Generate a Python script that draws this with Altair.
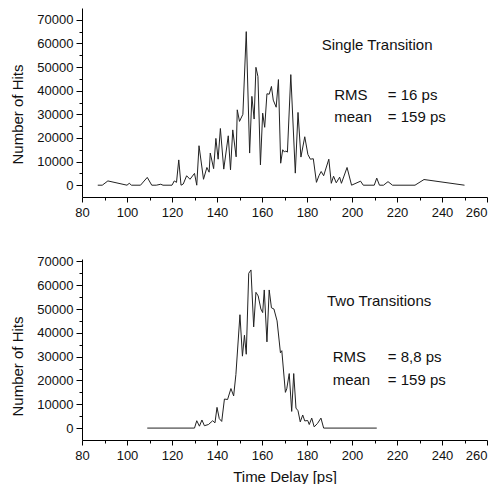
import altair as alt
import pandas as pd

# ---- data ----
top_t = [87, 89, 91.5, 100, 101, 102, 106, 109, 111, 113, 115, 116, 120, 121, 122, 123, 124, 125,
         126.5, 128, 130, 131, 132, 134, 135.5, 136.5, 137, 138.5, 139.5, 140.5, 141.5, 143, 145,
         146, 147, 148.5, 149, 150, 151.5, 153, 154.5, 155.5, 156.5, 157.3, 158.2, 159.3, 160.3,
         161.2, 162.2, 163.2, 164.2, 165, 166.3, 167.3, 168.3, 169.2, 170, 170.5, 171.3, 172.8,
         174.8, 176, 177.3, 179, 180.4, 181.5, 182.8, 184.2, 185.3, 186.3, 187.4, 189.7, 190.8,
         191.8, 193, 194.5, 195.3, 197.8, 199.8, 203.8, 205, 209.9, 211, 212.2, 214, 216, 218,
         228, 232, 250]
top_n = [0, 0, 1800, 0, 800, 0, 0, 3300, 0, 0, 400, 0, 0, 1800, 1200, 10700, 0, 500,
         4000, 2500, 5000, 0, 16700, 2500, 7500, 5500, 13600, 7000, 19800, 11000, 24000, 6800, 20900,
         6500, 23400, 12000, 31900, 27000, 30000, 65000, 13600, 37600, 28000, 49900, 46000, 8600, 30500,
         24500, 38700, 38500, 41800, 36000, 33000, 44700, 9300, 15000, 14000, 14500, 14000, 46800,
         5100, 30800, 11900, 20500, 13000, 11000, 11200, 1200, 4000, 5800, 4000, 11000, 800,
         3800, 1000, 3400, 800, 7500, 0, 1700, 0, 0, 3000, 0, 0, 1500, 0,
         0, 2400, 0]

bot_t = [109, 130, 131, 132.2, 133.3, 134.4, 136.2, 138.1, 139.1, 140, 141, 142.1, 143.3, 144.7,
         146.2, 147.4, 148.4, 150.2, 151.3, 152.2, 153, 154.1, 155.1, 156.3, 157.3, 158.3, 159.5,
         160.3, 161, 162.2, 163.2, 164.2, 165.3, 166.7, 168.2, 168.8, 170.4, 171, 172.1, 173.2,
         174.1, 175.1, 176, 177, 178.1, 179, 180.3, 181, 182.1, 183.2, 184.7, 186.2, 187.4, 211]
bot_n = [0, 0, 3100, 800, 3400, 1000, 1500, 3100, 2200, 8700, 4000, 2800, 12200, 12000,
         16600, 13500, 22500, 47600, 30200, 39000, 31000, 65000, 66400, 42500, 57000, 55500, 50000,
         48500, 58000, 36200, 58000, 50500, 50000, 45000, 31600, 32500, 15000, 16500, 22900, 7000,
         22900, 8400, 7300, 2600, 5500, 3000, 3200, 1500, 4200, 500, 2000, 4200, 0, 0]

x_ticks = list(range(80, 261, 10))
top_y_ticks = list(range(0, 70001, 5000))
bot_y_ticks = list(range(0, 70001, 5000))

FONT = "Liberation Sans"
INK = "#111111"


def panel(ts, ns, ymax, y_ticks, h, title_y, show_xtitle, notes):
    df = pd.DataFrame({"t": ts, "n": ns})
    xaxis = alt.Axis(
        values=x_ticks,
        format="d",
        labelExpr="datum.value % 20 ? '' : datum.label",
        labelAlign={"condition": {"test": "datum.value >= 260", "value": "right"}, "value": "center"},
        tickSize={"condition": {"test": "datum.value % 20", "value": 3}, "value": 5},
        labelPadding=4,
        labelOverlap=False,
        labelFlush=False,
        title="Time Delay [ps]" if show_xtitle else None,
        titlePadding=7,
    )
    yaxis = alt.Axis(
        values=y_ticks,
        format="d",
        labelExpr="datum.value % 10000 ? '' : datum.label",
        tickSize={"condition": {"test": "datum.value % 10000", "value": 3}, "value": 6},
        labelPadding=3,
        labelOverlap=False,
        labelFlush=False,
        title="Number of Hits",
        titleY=title_y,
        titlePadding=11,
    )
    xscale = alt.Scale(domain=[80, 260], nice=False, zero=False)
    yscale = alt.Scale(domain=[-5000, ymax], nice=False, zero=False)

    line = alt.Chart(df).mark_line(color="#222222", strokeWidth=1).encode(
        x=alt.X("t:Q", scale=xscale, axis=xaxis),
        y=alt.Y("n:Q", scale=yscale, axis=yaxis),
    )

    def note(text, x, y):
        return alt.Chart(pd.DataFrame({"label": [text]})).mark_text(
            align="left", baseline="middle", font=FONT, fontSize=15, color=INK
        ).encode(
            x=alt.XDatum(x, type="quantitative", scale=xscale, axis=xaxis),
            y=alt.YDatum(y, type="quantitative", scale=yscale, axis=yaxis),
            text="label:N",
        )

    layers = [line] + [note(*n) for n in notes]
    return alt.layer(*layers).properties(width=405, height=h)


top = panel(top_t, top_n, 75000, top_y_ticks, 189, 106, False, [
    ("Single Transition", 186.5, 59400),
    ("RMS", 192.1, 38100),
    ("= 16 ps", 215.9, 38100),
    ("mean", 192.1, 28900),
    ("= 159 ps", 215.9, 28900),
])
bottom = panel(bot_t, bot_n, 71000, bot_y_ticks, 181, 107, True, [
    ("Two Transitions", 188.9, 53200),
    ("RMS", 191.4, 30000),
    ("= 8,8 ps", 215.9, 30000),
    ("mean", 191.4, 20400),
    ("= 159 ps", 215.9, 20400),
])

chart = alt.vconcat(top, bottom, spacing=36).properties(
    padding={"left": 2, "top": 0, "right": 0, "bottom": 0}
).configure_view(stroke=None).configure_axis(
    grid=False,
    domainColor="black",
    tickColor="black",
    labelFont=FONT,
    labelFontSize=13,
    labelColor=INK,
    titleFont=FONT,
    titleFontSize=15,
    titleFontWeight="normal",
    titleColor=INK,
)

chart.save("out.html", embed_options={"renderer": "svg", "actions": False})
